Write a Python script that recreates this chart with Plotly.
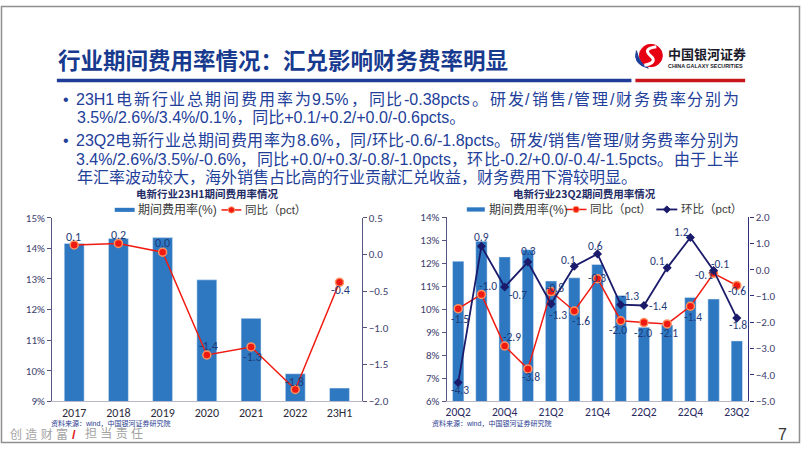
import plotly.graph_objects as go

W, H = 802, 451
def px(x): return x / W
def py(y): return 1 - y / H

# ---------------- data ----------------
years = ["2017", "2018", "2019", "2020", "2021", "2022", "23H1"]
h1_rate = [14.16, 14.32, 14.35, 12.97, 11.71, 9.90, 9.43]
h1_yoy = [0.13, 0.15, 0.03, -1.37, -1.26, -1.84, -0.38]
h1_yoy_labels = ["0.1", "0.2", "0.0", "-1.4", "-1.3", "-1.8", "-0.4"]

quarters = ["20Q2", "20Q3", "20Q4", "21Q1", "21Q2", "21Q3", "21Q4",
            "22Q1", "22Q2", "22Q3", "22Q4", "23Q1", "23Q2"]
q_rate = [12.08, 12.95, 12.27, 12.58, 11.22, 11.36, 11.94, 10.59, 9.21, 9.31, 10.51, 10.44, 8.62]
q_yoy = [-1.48, -0.94, -2.90, -3.77, -0.83, -1.57, -0.34, -1.94, -2.01, -2.06, -1.39, -0.14, -0.60]
q_yoy_labels = ["-1.5", "-1.0", "-2.9", "-3.8", "-0.8", "-1.6", "-0.3", "-2.0", "-2.0", "-2.1", "-1.4", "-0.1", "-0.6"]
q_qoq = [-4.29, 0.89, -0.66, 0.29, -1.30, 0.13, 0.60, -1.33, -1.36, 0.07, 1.22, -0.03, -1.84]
q_qoq_labels = ["-4.3", "0.9", "-0.7", "0.3", "-1.3", "0.1", "0.6", "-1.3", "-1.4", "0.1", "1.2", "-0.1", "-1.8"]

title_text = "行业期间费用率情况：汇兑影响财务费率明显"
bullet_lines = [
    ("• ", "23H1电新行业总期间费用率为9.5%，同比-0.38pcts。研发/销售/管理/财务费率分别为", True),
    (None, "3.5%/2.6%/3.4%/0.1%，同比+0.1/+0.2/+0.0/-0.6pcts。", False),
    ("• ", "23Q2电新行业总期间费用率为8.6%，同/环比-0.6/-1.8pcts。研发/销售/管理/财务费率分别为", True),
    (None, "3.4%/2.6%/3.5%/-0.6%，同比+0.0/+0.3/-0.8/-1.0pcts，环比-0.2/+0.0/-0.4/-1.5pcts。由于上半", True),
    (None, "年汇率波动较大，海外销售占比高的行业贡献汇兑收益，财务费用下滑较明显。", False),
]
chart1_title = "电新行业23H1期间费用率情况"
chart2_title = "电新行业23Q2期间费用率情况"
legend_bar = "期间费用率(%)"
legend_yoy = "同比（pct）"
legend_qoq = "环比（pct）"
source_text = "资料来源：wind，中国银河证券研究院"

# ---------------- styles ----------------
BAR = "#2E78C2"
RED = "#F01A10"
NAVY = "#1B1B6B"
LBL = "#1F3A78"
AXC = "#55557f"
NUMF = "Liberation Sans Narrow, Carlito, Liberation Sans, Arial"
CJK = "Liberation Sans, Noto Sans CJK SC"
TXT = "#22409a"

fig = go.Figure()

# left chart
fig.add_trace(go.Bar(x=years, y=h1_rate, marker_color=BAR, width=0.45,
                     xaxis="x", yaxis="y", showlegend=False))
fig.add_trace(go.Scatter(x=years, y=h1_yoy, mode="lines+markers", xaxis="x", yaxis="y2",
                         line=dict(color=RED, width=1.5),
                         marker=dict(symbol="circle", size=8, color=RED, line=dict(color="#FF9060", width=1.5)),
                         showlegend=False))
# right chart
fig.add_trace(go.Bar(x=quarters, y=q_rate, marker_color=BAR, width=0.49,
                     xaxis="x2", yaxis="y3", showlegend=False))
fig.add_trace(go.Scatter(x=quarters, y=q_yoy, mode="lines+markers", xaxis="x2", yaxis="y4",
                         line=dict(color=RED, width=1.5),
                         marker=dict(symbol="circle", size=8, color=RED, line=dict(color="#FF9060", width=1.5)),
                         showlegend=False))
fig.add_trace(go.Scatter(x=quarters, y=q_qoq, mode="lines+markers", xaxis="x2", yaxis="y4",
                         line=dict(color=NAVY, width=1.8),
                         marker=dict(symbol="diamond", size=7, color=NAVY),
                         showlegend=False))

ann = []
# data labels (offsets in px); category index used for x so numeric-looking names are not misread
h1_off = [(-1, 8), (0, 8), (0, 9), (2, 9), (1, -10), (-1, 8), (1, -8)]
for i, (y, t, (dx, dy)) in enumerate(zip(h1_yoy, h1_yoy_labels, h1_off)):
    ann.append(dict(x=i, y=y, xref="x", yref="y2", text=t, showarrow=False, xshift=dx, yshift=dy,
                    font=dict(family=NUMF, size=12, color=LBL)))
yoy_off = [(2, -10), (7, 8), (7, 9), (3, -8), (4, 4), (7, -10), (-1, 1), (-3, -9), (-1, -10), (2, -9),
           (3, -11), (-10, -2), (0, -6)]
qoq_off = [(2, -7), (0, 9), (13, -8), (1, 11), (7, -11), (-6, 6), (-2, 8), (9, 9), (14, -1), (-10, 7),
           (-9, 6), (6, 6), (1, -7)]
for i, (y, t, (dx, dy)) in enumerate(zip(q_yoy, q_yoy_labels, yoy_off)):
    ann.append(dict(x=i, y=y, xref="x2", yref="y4", text=t, showarrow=False, xshift=dx, yshift=dy,
                    font=dict(family=NUMF, size=11.5, color=LBL)))
for i, (y, t, (dx, dy)) in enumerate(zip(q_qoq, q_qoq_labels, qoq_off)):
    ann.append(dict(x=i, y=y, xref="x2", yref="y4", text=t, showarrow=False, xshift=dx, yshift=dy,
                    font=dict(family=NUMF, size=11.5, color=LBL)))

def P(x, y, size, text, color, family=CJK, xanchor="left", bold=False):
    if bold:
        text = "<b>" + text + "</b>"
    ann.append(dict(x=px(x), y=py(y), xref="paper", yref="paper", text=text, showarrow=False,
                    xanchor=xanchor, yanchor="middle", font=dict(family=family, size=size, color=color)))

# title
P(55, 55, 22.5, title_text, "#173A8F", family="Noto Sans CJK SC", bold=True)

# bullets with justification
WT = {"0": .556, "1": .556, "2": .556, "3": .556, "4": .556, "5": .556, "6": .556, "7": .556, "8": .556,
      "9": .556, ".": .278, "%": .889, "/": .278, "+": .584, "-": .333, "p": .556, "c": .5, "t": .278,
      "s": .5, "H": .722, "Q": .778, " ": .278}
def cw(ch):
    return 1.0 if ord(ch) > 0x2E80 else WT.get(ch, .556)
def toks(s):
    out, cur = [], ""
    for ch in s:
        if ord(ch) > 0x2E80:
            if cur:
                out.append(cur); cur = ""
            out.append(ch)
        else:
            cur += ch
    if cur:
        out.append(cur)
    return out

FS = 16
X0, X1 = 74, 739
line_y = [96, 115, 138, 158, 177]
for (bul, s, just), yy in zip(bullet_lines, line_y):
    if bul:
        P(60, yy, FS, "•", TXT)
    if not just:
        P(X0, yy, FS, s, TXT)
        continue
    tk = toks(s)
    ws = [sum(cw(c) for c in t) * FS for t in tk]
    gap = (X1 - X0 - sum(ws)) / (len(tk) - 1)
    xx = X0
    for t, w in zip(tk, ws):
        P(xx - 1, yy, FS, t, TXT)
        xx += w + gap

# chart titles
P(207, 193.5, 10.5, chart1_title, "#1F2D66", family="Noto Sans CJK SC", xanchor="center", bold=True)
P(585, 193.5, 10.5, chart2_title, "#1F2D66", family="Noto Sans CJK SC", xanchor="center", bold=True)

# legends
LEGC = "#3a3a3a"
shapes = []
def rect(x0, y0, x1, y1, color):
    shapes.append(dict(type="rect", xref="paper", yref="paper", x0=px(x0), x1=px(x1), y0=py(y1), y1=py(y0),
                       fillcolor=color, line=dict(width=0)))
def hline(x0, x1, y, color, w):
    shapes.append(dict(type="line", xref="paper", yref="paper", x0=px(x0), x1=px(x1), y0=py(y), y1=py(y),
                       line=dict(color=color, width=w)))
def dot(cx, cy, r, color, edge=None):
    shapes.append(dict(type="circle", xref="paper", yref="paper", x0=px(cx - r), x1=px(cx + r),
                       y0=py(cy + r), y1=py(cy - r), fillcolor=color,
                       line=dict(color=edge or color, width=1)))
def diamond(cx, cy, r, color):
    path = "M {},{} L {},{} L {},{} L {},{} Z".format(px(cx - r), py(cy), px(cx), py(cy - r),
                                                     px(cx + r), py(cy), px(cx), py(cy + r))
    shapes.append(dict(type="path", xref="paper", yref="paper", path=path, fillcolor=color,
                       line=dict(color=color, width=1)))

rect(114, 207.8, 134, 212, BAR)
P(135, 210, 12, legend_bar, LEGC)
hline(221, 241, 210, RED, 1.5)
dot(231, 210, 3.2, RED, "#FF9060")
P(243, 210, 11.5, legend_yoy, LEGC)

rect(467, 207.3, 485, 211.7, BAR)
P(487, 209.5, 12, legend_bar, LEGC)
hline(566, 587, 209.5, RED, 1.5)
dot(576.5, 209.5, 3.2, RED, "#FF9060")
P(588, 209.5, 11.5, legend_yoy, LEGC)
hline(657, 678, 209.5, NAVY, 1.8)
diamond(667.5, 209.5, 3.6, NAVY)
P(680, 209.5, 11.5, legend_qoq, LEGC)

# sources
P(48, 430, 7, source_text, "#1F3A8F")
P(430, 430, 7, source_text, "#1F3A8F")

# footer
P(7, 441, 12, "创 造 财 富", "#A3A3A3")
P(69, 441, 13, "/", "#E02020", bold=True)
P(82, 441, 12, "担 当 责 任", "#A3A3A3")
P(783, 441, 16, "7", "#333333", family="Liberation Sans", xanchor="center")

# header lines
hline(56, 632, 76.7, "#1F3C99", 3.5)
hline(636, 746, 76.7, "#C8161D", 3.5)

# logo
def pt(a, b):
    return "{},{}".format(px(a), py(b))
dot(651.5, 51, 11.5, "#E60012")
blue = "M {} Q {} {} Q {} {} Z".format(pt(637, 46), pt(633, 60), pt(649, 64), pt(640, 60), pt(637, 46))
shapes.append(dict(type="path", xref="paper", yref="paper", path=blue, fillcolor="#1D3F9A",
                   line=dict(color="#1D3F9A", width=1)))
wpath = "M {} Q {} {} Q {} {}".format(pt(657, 42), pt(643, 44), pt(651, 51), pt(659, 58), pt(645, 61))
shapes.append(dict(type="path", xref="paper", yref="paper", path=wpath, line=dict(color="white", width=3)))
P(667, 48.5, 13, "中国银河证券", "#1a1a2a", family="Noto Sans CJK SC", bold=True)
P(667, 61.5, 5.4, "CHINA GALAXY SECURITIES", "#1a1a2a", family="Liberation Sans", bold=True)

# slide border
shapes.append(dict(type="rect", xref="paper", yref="paper", x0=px(0.5), x1=px(800.5), y0=py(449.5), y1=py(0.5),
                   line=dict(color="#8f8f8f", width=1.5), fillcolor="rgba(0,0,0,0)"))

axis_common = dict(showgrid=False, zeroline=False, showline=True, linecolor=AXC, linewidth=1)
fig.update_layout(
    width=W, height=H, margin=dict(l=0, r=0, t=0, b=0), autosize=False,
    paper_bgcolor="white", plot_bgcolor="rgba(0,0,0,0)",
    showlegend=False,
    xaxis=dict(domain=[px(51.2), px(361.5)], anchor="y", type="category", range=[-0.5, 6.5],
               showgrid=False, zeroline=False, showline=True, linecolor="#b8b8c8", ticks="",
               tickfont=dict(family=NUMF, size=12, color="#2a2a3a")),
    yaxis=dict(domain=[py(407), py(218)], anchor="x", range=[9, 15], dtick=1, ticksuffix="%",
               ticks="outside", ticklen=4, tickcolor=AXC,
               tickfont=dict(family=NUMF, size=11, color="#40406e"), **axis_common),
    yaxis2=dict(overlaying="y", side="right", anchor="x", range=[-2.0, 0.5], dtick=0.5, tickformat=".1f",
                ticks="outside", ticklen=4, tickcolor=AXC,
                tickfont=dict(family=NUMF, size=11, color="#40406e"), **axis_common),
    xaxis2=dict(domain=[px(446.7), px(749.3)], anchor="y3", type="category", range=[-0.5, 12.5],
                tickvals=quarters[::2], ticktext=quarters[::2],
                showgrid=False, zeroline=False, showline=True, linecolor="#b8b8c8", ticks="",
                tickfont=dict(family=NUMF, size=11.5, color="#2a2a60")),
    yaxis3=dict(domain=[py(407), py(217.3)], anchor="x2", range=[6, 14], dtick=1, ticksuffix="%",
                ticks="outside", ticklen=4, tickcolor=AXC,
                tickfont=dict(family=NUMF, size=11, color="#40406e"), **axis_common),
    yaxis4=dict(overlaying="y3", side="right", anchor="x2", range=[-5, 2], dtick=1, tickformat=".1f",
                ticks="outside", ticklen=4, tickcolor="#2f2f7f",
                tickfont=dict(family=NUMF, size=11, color="#40406e"),
                showgrid=False, zeroline=False, showline=True, linecolor="#2f2f7f", linewidth=1.2),
    annotations=ann, shapes=shapes,
)

fig.write_html("out.html", config={"displayModeBar": False},
               post_script="document.body.style.margin='0';document.body.style.overflow='hidden';")
